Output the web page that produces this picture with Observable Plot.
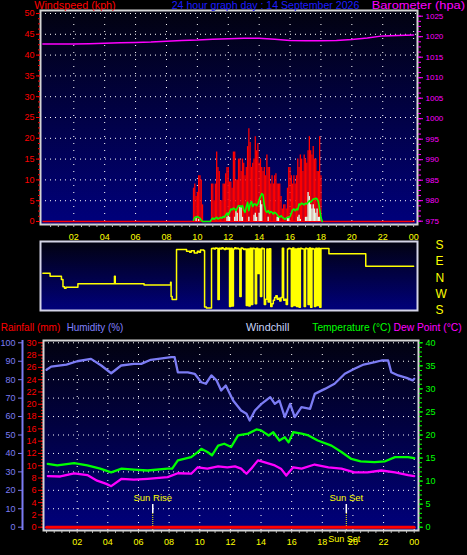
<!DOCTYPE html>
<html><head><meta charset="utf-8">
<script src="https://cdn.jsdelivr.net/npm/d3@7"></script>
<script src="https://cdn.jsdelivr.net/npm/@observablehq/plot@0.6"></script>
<style>
html,body{margin:0;padding:0;background:#000;}
#chart{position:relative;width:467px;height:555px;background:#000;overflow:hidden;}
#chart svg{position:absolute;left:0;top:0;}
</style></head><body><div id="chart"></div>
<script>
// ---------------- DATA ----------------
const hourTicks = [2,4,6,8,10,12,14,16,18,20,22,24];
const dirLabels = ["S","W","N","E","S"];
const sunEvents = ["Sun Rise","Sun Set"];
const sunTimes = ["06:56","19:34"];

// barometer, hourly 00..24 (hPa)
const baroHours = [0,1,2,3,4,5,6,7,8,9,10,11,12,13,14,15,16,17,18,19,20,21,22,23,24];
const baroValues = [1018.2,1018.2,1018.2,1018.3,1018.4,1018.5,1018.6,1018.7,1018.9,1019.1,1019.2,1019.4,1019.5,1019.6,1019.6,1019.4,1019.1,1019.0,1019.0,1019.1,1019.3,1019.7,1020.2,1020.3,1020.4];

// wind samples every 5 minutes starting 09:45 (kph)
const windStart = "09:45";
const windGust = [8,9,6,7,11,11,10,4,0,0, 0,0,0,0,9,9,5,9,16.7,13, 12,5,5,9,9,11.5,13,13,9.5,9.5,
  8,16.7,16.7,10,10,15,15,12,15,14, 11,13,18,22.3,19,13,14,15,20.4,17, 18.7,14,15,13,12,13,11,16,13,13,
  9,11,9,11,11.5,9,9,9,6,3, 4,4,3,8,13,13,11,9,11,9, 11,15,13,16,15,12,16,15,14,17,
  20.4,17,16,18,15,15,12,12,20.4,11, 0];
const windAvg = [0.3,1.0,1.0,1.2,1.0,0.8,0.3,0,0,0, 0,0,0,0,0.5,0.8,0.5,0.8,1.0,0.6, 0.8,1.0,0.8,1.2,1.0,1.5,2.0,1.5,2.2,3.0,
  2.8,3.2,3.0,2.6,3.2,3.8,3.8,3.5,3.8,2.8, 2.2,3.5,4.6,2.6,4.2,4.8,3.6,4.2,4.2,3.8, 4.2,5.2,6.0,6.7,6.4,4.0,2.6,2.2,2.6,2.0,
  2.4,2.2,1.8,2.2,2.0,1.6,1.2,1.0,1.4,1.0, 0.8,0.5,0.8,1.0,1.0,1.2,2.0,2.8,3.0,2.6, 3.0,2.8,4.2,4.0,4.4,4.2,4.0,4.4,4.2,4.6,
  5.0,4.6,5.0,5.4,5.4,5.6,5.4,4.8,3.0,1.0, 0];
const windLull = [0,0,1,0,0.5,0,0,0,0,0, 0,0,0,0,0,0,0,0,0,0, 0,0,0,0,0,0,1,2,1,0,
  0,0,1,2.6,2,0,3.4,3.4,1,0, 0,0,0,1,0,0,0,1.5,2,1, 0,2,5,4,0,0,0,0,1,0,
  0,0,0,0,0,1,1,0,0,0, 0,0,0,1,1,0,0,0,0,0, 0,1,1.5,0.5,0,0,0,1,1,7,
  6,4,3,4,3,2,3,1,1,0, 0];

// wind direction (compass degrees)
const dirSparseTimes = ["00:00","00:27","00:28","01:08","01:12","01:18","01:24","01:30","02:13","02:16","04:37","04:38","04:41","06:32","06:33","08:13","08:16","08:18","08:22","08:38","08:39","09:07","09:18","09:30","09:36","09:48","10:00","10:06","10:12","10:25","10:28","10:35","10:51"];
const dirSparseDeg = [25,25,9,9,350,310,302,307,307,326,326,9,326,326,320,320,335,256,238,238,158,158,148,142,150,138,148,142,155,150,197,191,191];
const dirDenseStart = "10:55"; // 5-minute samples
const dirDenseDeg = [163,165,160,166,164,238,165,160,168,162,158,166,160,165,200,164,202,160,168,162,165,160,256,166,163,158,160,
  205,160,202,164,210,165,162,215,164,24,160,256,165,162,210,240,160,225,162,200,215,235,250,260,240,245,230,250,165,235,240,210,160,
  165,162,200,166,205,160,200,163,195,165,162,160,200,165,162,210,166,195,163,160,200,165,205,164,195];
const dirLateTimes = ["18:00","18:30","18:31","20:53","20:54","24:00"];
const dirLateDeg = [163,163,134,134,64,64];

// lower panel
const humidity = [[0,85.4],[0.3,87.1],[1.3,88.2],[2.0,90],[2.9,91.3],[3.57,87.7],[4.22,83.5],[4.87,87.7],[5.7,88.6],[6.18,88.6],[6.8,90.8],[8.14,92.2],[8.36,92.2],[8.57,84],[9.22,84],[9.67,83.2],[10.1,78.6],[10.4,77.8],[10.76,82.3],[11.1,79.6],[11.4,74.1],[11.7,76.8],[12.18,68.7],[12.7,63.3],[13.05,61.5],[13.26,57.9],[13.6,63.3],[14.03,66.9],[14.6,70.5],[14.9,66.9],[15.2,68.7],[15.55,59.7],[15.9,66.9],[16.2,59.7],[16.64,65.1],[17.2,64.2],[17.51,72.3],[18.17,75],[18.8,77.8],[19.47,83.2],[20.1,85.9],[20.7,88.2],[21.43,89.5],[21.87,90.4],[22.3,90.4],[22.5,84],[22.96,82.3],[23.5,81],[23.9,79.6],[24.0,80.5]];
const temperature = [[0.08,13.75],[0.7,13.4],[1.8,13.9],[2.66,13.4],[3.5,12.7],[4.22,11.9],[4.9,12.7],[5.7,12.5],[6.6,12.3],[7.9,12.7],[8.2,12.7],[8.57,14.5],[9.44,15.2],[9.87,16.3],[10.1,17.0],[10.5,16.3],[10.8,15.6],[11.2,17.7],[11.6,18.1],[12.05,17.4],[12.5,19.9],[13.16,20.3],[13.7,21.2],[14.0,21.0],[14.5,19.9],[14.8,20.6],[15.2,18.8],[15.55,19.5],[15.8,18.4],[16.1,20.6],[16.65,20.3],[17.1,19.9],[17.7,18.8],[18.6,17.7],[19.25,16.3],[19.9,14.8],[20.5,14.3],[21.4,14.1],[22.1,14.3],[22.75,15.2],[23.6,15.2],[24.0,15.0]];
const dewPoint = [[0.08,11.1],[0.9,11.0],[1.8,11.7],[2.66,11.3],[3.3,10.1],[3.9,9.4],[4.22,8.9],[4.9,10.5],[5.7,10.3],[6.6,10.5],[7.9,10.85],[8.57,11.7],[9.44,11.6],[9.87,13.0],[10.5,12.7],[11.2,13.2],[11.8,13.0],[12.3,13.2],[12.7,12.7],[13.05,11.6],[13.36,12.7],[13.8,14.5],[14.2,14.1],[14.9,13.4],[15.3,12.7],[15.65,11.2],[16.1,13.0],[16.65,12.7],[17.5,13.6],[18.4,13.0],[19.25,12.7],[20.1,11.9],[20.95,11.9],[21.85,12.3],[22.75,11.9],[23.6,11.3],[24.0,11.1]];
const rainHours = [0,2,4,6,8,10,12,14,16,18,20,22,24];
const rainValues = [0,0,0,0,0,0,0,0,0,0,0,0,0];

const topTitles = ["Windspeed (kph)","24 hour graph day : 14 September 2026","Barometer (hpa)"];
const bottomTitles = ["Rainfall (mm)","Humidity (%)","Windchill","Temperature (°C)","Dew Point (°C)"];

// ---------------- HELPERS ----------------
const W = 467, H = 555;
const FONT = "'Liberation Sans', Arial, sans-serif";
const hm = s => { const [a,b] = s.split(":").map(Number); return a + b/60; };
const fmtHour = h => String(h % 24).padStart(2, "0");
const dirV = deg => deg >= 180 ? deg - 180 : deg + 180;

const wind = windGust.map((g, i) => ({h: hm(windStart) + i/12, gust: g, avg: windAvg[i], lull: windLull[i]}));
const baro = baroHours.map((h, i) => ({h, b: baroValues[i]}));
const dirData = [
  ...dirSparseTimes.map((t, i) => ({h: hm(t), v: dirV(dirSparseDeg[i])})),
  ...dirDenseDeg.map((d, i) => ({h: hm(dirDenseStart) + i/12, v: dirV(d)})),
  ...dirLateTimes.map((t, i) => ({h: hm(t), v: dirV(dirLateDeg[i])}))
];
const rain = rainHours.map((h, i) => ({h, v: rainValues[i]}));
const sun = sunTimes.map((t, i) => ({h: hm(t), name: sunEvents[i]}));

function gradient(id) {
  return () => {
    const defs = d3.create("svg:defs");
    const g = defs.append("linearGradient").attr("id", id).attr("x1", 0).attr("y1", 0).attr("x2", 0).attr("y2", 1);
    g.append("stop").attr("offset", "0%").attr("stop-color", "#020210");
    g.append("stop").attr("offset", "100%").attr("stop-color", "#00007c");
    return defs.node();
  };
}
const chart = document.getElementById("chart");
function layer(opts) {
  const svg = Plot.plot({width: W, height: H,
    style: {background: "transparent", fontFamily: FONT, overflow: "visible"}, ...opts});
  chart.appendChild(svg);
}
const dotsH = {stroke: "#ffffff", strokeDasharray: "1,4"};
const dotsV = {stroke: "#ffffff", strokeDasharray: "1,6"};
const none = () => "";

// ---------------- TOP PANEL ----------------
const topM = {marginLeft: 40, marginRight: 50, marginTop: 10, marginBottom: 331};
const xTop = {domain: [-0.155, 24.25], axis: null};
layer({...topM, x: xTop, y: {domain: [-0.72, 50.72], axis: null},
  marks: [
    gradient("gTop"),
    Plot.frame({fill: "url(#gTop)", stroke: "none"}),
    Plot.ruleY(d3.range(5, 51, 5), dotsH),
    Plot.ruleX(hourTicks, dotsV),
    Plot.ruleY([0], {x1: 0, x2: 24.1, stroke: "#ff0000", strokeWidth: 1.5}),
    Plot.ruleX(wind.filter(d => d.gust > 0), {x: "h", y1: 0, y2: "gust", stroke: "#ff0000", strokeWidth: 1.3}),
    Plot.ruleX(wind.filter(d => d.lull > 0), {x: "h", y1: 0, y2: "lull", stroke: "#e4fce8", strokeWidth: 1.3}),
    Plot.line(wind, {x: "h", y: "avg", stroke: "#00ff00", strokeWidth: 1.6}),
    Plot.frame({stroke: "#d4d4d4", strokeWidth: 2}),
    Plot.axisY({ticks: d3.range(0, 51, 5), anchor: "left", tickSize: 4, tickPadding: 2, fontSize: 9, color: "#ff0000", tickFormat: String, label: null}),
    Plot.axisY({ticks: d3.range(0, 50.01, 1.25), anchor: "left", tickSize: 2, tickFormat: none, color: "#ff0000", label: null}),
    Plot.axisX({ticks: hourTicks, anchor: "bottom", tickSize: 0, tickPadding: 9, fontSize: 9, color: "#ffff00", tickFormat: fmtHour, label: null}),
    Plot.axisX({ticks: d3.range(0.5, 24.01, 0.5), anchor: "bottom", tickSize: 3, tickFormat: none, color: "#b8b8b8", label: null})
  ]});
layer({...topM, x: xTop, y: {domain: [974.195, 1026.39], axis: null},
  marks: [
    Plot.line(baro, {x: "h", y: "b", stroke: "#ff00ff", strokeWidth: 1.5}),
    Plot.axisY({ticks: d3.range(975, 1026, 5), anchor: "right", tickSize: 5, tickPadding: 3, fontSize: 8, color: "#ff00ff", tickFormat: String, label: null}),
    Plot.axisY({ticks: d3.range(975, 1025.01, 1.25), anchor: "right", tickSize: 3, tickFormat: none, color: "#ff00ff", label: null})
  ]});

// ---------------- DIRECTION PANEL ----------------
layer({marginLeft: 40, marginRight: 50, marginTop: 241, marginBottom: 245, x: xTop, y: {domain: [-2.8, 382.3], axis: null},
  marks: [
    gradient("gDir"),
    Plot.frame({fill: "url(#gDir)", stroke: "none"}),
    Plot.line(dirData, {x: "h", y: "v", stroke: "#ffff00", strokeWidth: 1.5, curve: "step-after"}),
    Plot.frame({stroke: "#d4d4e8", strokeWidth: 2}),
    Plot.axisY({ticks: [0, 90, 180, 270, 360], anchor: "right", tickSize: 0, tickPadding: 18, fontSize: 12, color: "#ffff00",
      tickFormat: d => dirLabels[Math.round(d / 90)], label: null})
  ]});

// ---------------- LOWER PANEL ----------------
const botM = {marginLeft: 43, marginRight: 49, marginTop: 340, marginBottom: 25};
const xBot = {domain: [-0.2, 24.28], axis: null};
const humDomain = [-1.79, 101.25];
layer({...botM, x: xBot, y: {domain: humDomain, axis: null},
  marks: [
    gradient("gBot"),
    Plot.frame({fill: "url(#gBot)", stroke: "none"}),
    Plot.ruleY(d3.range(10, 101, 10), dotsH),
    Plot.ruleX(hourTicks, dotsV),
    Plot.ruleX(sun, {x: "h", y1: 7.4, y2: 12.3, stroke: "#ffffff", strokeWidth: 1.5}),
    Plot.ruleX(sun, {x: "h", y1: humDomain[0], y2: 7.4, stroke: "#ffff00", strokeDasharray: "1,1"}),
    Plot.text(sun, {x: "h", y: 15.9, text: "name", fill: "#ffff00", fontSize: 9.5}),
    Plot.line(humidity, {x: d => d[0], y: d => d[1], stroke: "#7c7cf4", strokeWidth: 2.3}),
    Plot.axisX({ticks: hourTicks, anchor: "bottom", tickSize: 0, tickPadding: 8, fontSize: 9, color: "#ffff00", tickFormat: fmtHour, label: null}),
    Plot.axisX({ticks: d3.range(0, 24.01, 0.5), anchor: "bottom", tickSize: 3, tickFormat: none, color: "#a8a8a8", label: null}),
    Plot.text(sun.slice(1), {x: "h", frameAnchor: "bottom", dy: 11, dx: -2, text: "name", fill: "#ffff00", fontSize: 9})
  ]});
// humidity axis (outer left)
layer({marginLeft: 22, marginRight: 444, marginTop: 340, marginBottom: 25, x: {domain: [0, 1], axis: null}, y: {domain: humDomain, axis: null},
  marks: [
    Plot.ruleX([0], {stroke: "#7c7cf4", strokeWidth: 2}),
    Plot.axisY({ticks: d3.range(0, 101, 10), anchor: "left", tickSize: 4, tickPadding: 3, fontSize: 9, color: "#7c7cf4", tickFormat: String, label: null})
  ]});
// rainfall
layer({...botM, x: xBot, y: {domain: [-0.537, 30.375], axis: null},
  marks: [
    Plot.line(rain, {x: "h", y: "v", stroke: "#ff0000", strokeWidth: 3}),
    Plot.axisY({ticks: d3.range(0, 31, 2), anchor: "left", tickSize: 5, tickPadding: 2, fontSize: 9, color: "#ff0000", tickFormat: String, label: null}),
    Plot.axisY({ticks: d3.range(0, 30.01, 0.5), anchor: "left", tickSize: 2, tickFormat: none, color: "#ff0000", label: null})
  ]});
// temperature / dew point
layer({...botM, x: xBot, y: {domain: [-0.716, 40.5], axis: null},
  marks: [
    Plot.line(temperature, {x: d => d[0], y: d => d[1], stroke: "#00ff00", strokeWidth: 2.3}),
    Plot.line(dewPoint, {x: d => d[0], y: d => d[1], stroke: "#ff00ff", strokeWidth: 2.3}),
    Plot.frame({stroke: "#d4d4d4", strokeWidth: 2}),
    Plot.axisY({ticks: d3.range(0, 41, 5), anchor: "right", tickSize: 4, tickPadding: 3, fontSize: 9, color: "#00ff00", tickFormat: String, label: null}),
    Plot.axisY({ticks: d3.range(0, 40.01, 1), anchor: "right", tickSize: 3, tickFormat: none, color: "#00ff00", label: null})
  ]});

// ---------------- HEADERS ----------------
const hdr = d3.select(chart).append("svg").attr("width", W).attr("height", H)
  .style("font-family", FONT);
const topLayout = [{x: 34.3, w: 81.4, c: "#ff0000"}, {x: 171.7, w: 187.6, c: "#1c1cff"}, {x: 371.7, w: 93.3, c: "#ff00ff"}];
topTitles.forEach((t, i) => hdr.append("text").attr("x", topLayout[i].x).attr("y", 9.4)
  .attr("font-size", 11).attr("fill", topLayout[i].c).attr("textLength", topLayout[i].w)
  .attr("lengthAdjust", "spacingAndGlyphs").text(t));
const botLayout = [{x: 0.7, w: 59.6, c: "#ff0000"}, {x: 66.7, w: 56.6, c: "#8080ff"}, {x: 246, w: 43.3, c: "#c8d4f8"},
  {x: 312.3, w: 78.5, c: "#00ff00"}, {x: 393.5, w: 68.2, c: "#ff00ff"}];
bottomTitles.forEach((t, i) => hdr.append("text").attr("x", botLayout[i].x).attr("y", 330.5)
  .attr("font-size", 11).attr("fill", botLayout[i].c).attr("textLength", botLayout[i].w)
  .attr("lengthAdjust", "spacingAndGlyphs").text(t));
</script></body></html>
